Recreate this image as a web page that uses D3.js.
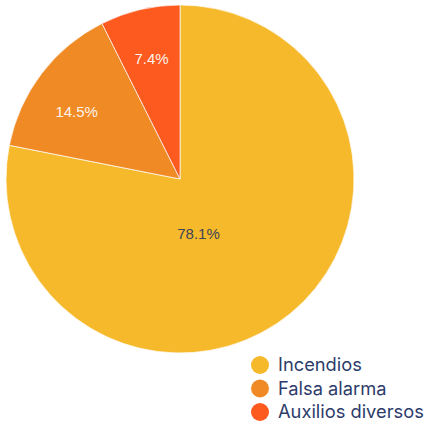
<!DOCTYPE html>
<html>
<head>
<meta charset="utf-8">
<script src="https://cdn.jsdelivr.net/npm/d3@7"></script>
<style>
  body { margin: 0; background: #fff; }
  svg { display: block; }
</style>
</head>
<body>
<div id="chart"></div>
<script>
var categories = ['Incendios', 'Falsa alarma', 'Auxilios diversos'];
var values = [78.1, 14.5, 7.4];
var colors = ['#f6b92b', '#f08a24', '#fc5a1f'];
var labelColors = ['#3d4556', '#fdf3ea', '#fdf3ea'];

var W = 428, H = 430;
var cx = 180, cy = 179, R = 174;

var svg = d3.select('#chart').append('svg')
    .attr('width', W)
    .attr('height', H);

var data = categories.map(function (c, i) { return { name: c, value: values[i], i: i }; });

var pie = d3.pie()
    .sort(null)
    .value(function (d) { return d.value; });

var arc = d3.arc().innerRadius(0).outerRadius(R);

var g = svg.append('g').attr('transform', 'translate(' + cx + ',' + cy + ')');
var arcs = pie(data);

g.selectAll('path.slice')
    .data(arcs)
    .enter()
    .append('path')
    .attr('class', 'slice')
    .attr('d', arc)
    .attr('fill', function (d) { return colors[d.data.i]; })
    .attr('stroke', '#ffffff')
    .attr('stroke-width', 0.7);

// label placement: small slices along mid angle, big slice nearer centre
function labelPos(d) {
    var a = (d.startAngle + d.endAngle) / 2;
    var r = R * 0.71;
    if (d.endAngle - d.startAngle > Math.PI) {
        a += 0.36;
        r = R * 0.33;
    } else if (d.endAngle - d.startAngle > 0.6) {
        a -= 0.07;
    }
    return [Math.sin(a) * r, -Math.cos(a) * r];
}

g.selectAll('text.lbl')
    .data(arcs)
    .enter()
    .append('text')
    .attr('class', 'lbl')
    .attr('x', function (d) { return labelPos(d)[0]; })
    .attr('y', function (d) { return labelPos(d)[1]; })
    .attr('dy', '0.35em')
    .attr('text-anchor', 'middle')
    .attr('font-family', 'Liberation Sans, Arial, sans-serif')
    .attr('font-size', 15)
    .attr('fill', function (d) { return labelColors[d.data.i]; })
    .text(function (d) { return d3.format('.1f')(d.data.value) + '%'; });

// legend
var legend = svg.append('g').attr('transform', 'translate(260,365)');
var item = legend.selectAll('g.item')
    .data(data)
    .enter()
    .append('g')
    .attr('class', 'item')
    .attr('transform', function (d, i) { return 'translate(0,' + (i * 23.5) + ')'; });

item.append('circle')
    .attr('r', 9)
    .attr('fill', function (d) { return colors[d.i]; });

item.append('text')
    .attr('x', 18)
    .attr('dy', '0.35em')
    .attr('font-family', 'Inter, Liberation Sans, sans-serif')
    .attr('font-size', 18.3)
    .attr('fill', '#2d3c6a')
    .text(function (d) { return d.name; });
</script>
</body>
</html>
